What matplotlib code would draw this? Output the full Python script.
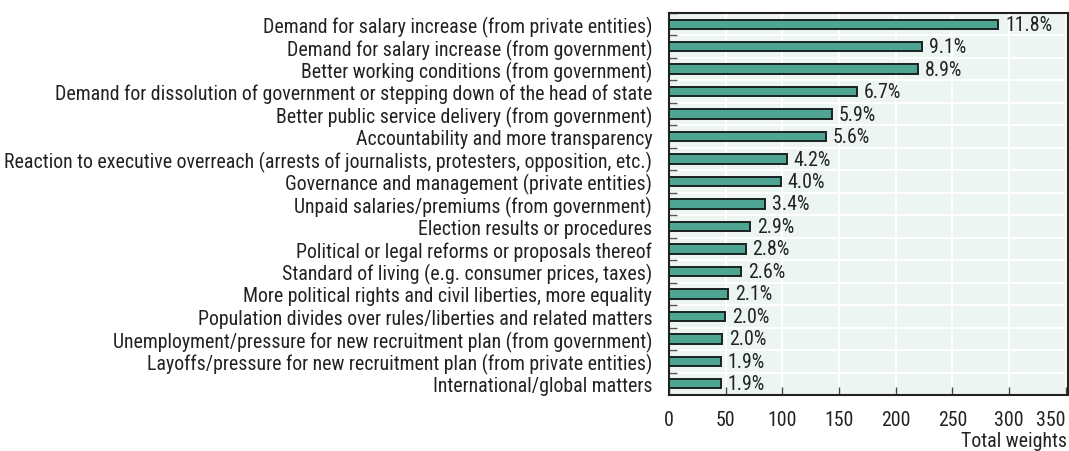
import matplotlib
matplotlib.use("Agg")
import matplotlib.pyplot as plt
from matplotlib import font_manager
import numpy as np
from matplotlib.ticker import FixedLocator

# the reference uses a condensed face; take the narrowest one we have
installed = {f.name for f in font_manager.fontManager.ttflist}
stretch = "normal"
family = "Roboto"
for name in ["Liberation Sans Narrow", "Roboto Condensed", "Open Sans Condensed",
             "DejaVu Sans Condensed"]:
    if name in installed:
        family = name
        break
else:
    cond = [f for f in font_manager.fontManager.ttflist
            if f.name == "DejaVu Sans" and f.stretch in ("condensed", 500 - 100)]
    if cond:
        family, stretch = "DejaVu Sans", "condensed"
plt.rcParams['font.family'] = [family, 'DejaVu Sans']
plt.rcParams['font.stretch'] = stretch

categories = [
    "Demand for salary increase (from private entities)",
    "Demand for salary increase (from government)",
    "Better working conditions (from government)",
    "Demand for dissolution of government or stepping down of the head of state",
    "Better public service delivery (from government)",
    "Accountability and more transparency",
    "Reaction to executive overreach (arrests of journalists, protesters, opposition, etc.)",
    "Governance and management (private entities)",
    "Unpaid salaries/premiums (from government)",
    "Election results or procedures",
    "Political or legal reforms or proposals thereof",
    "Standard of living (e.g. consumer prices, taxes)",
    "More political rights and civil liberties, more equality",
    "Population divides over rules/liberties and related matters",
    "Unemployment/pressure for new recruitment plan (from government)",
    "Layoffs/pressure for new recruitment plan (from private entities)",
    "International/global matters",
]
weights = [290.5, 223.5, 219.5, 165.5, 144, 138.3, 103.8, 98.5, 84.7,
           71.8, 67.6, 63.8, 52.4, 49.7, 47.1, 45.9, 45.9]
shares = ["11.8%", "9.1%", "8.9%", "6.7%", "5.9%", "5.6%", "4.2%", "4.0%",
          "3.4%", "2.9%", "2.8%", "2.6%", "2.1%", "2.0%", "2.0%", "1.9%", "1.9%"]
xticks = [0, 50, 100, 150, 200, 250, 300, 350]

fig = plt.figure(figsize=(10.69, 4.52), dpi=100)
renderer = fig.canvas.get_renderer()

# size the labels so the longest one spans about the same width as the reference
longest = max(categories, key=len)
probe = fig.text(0, 0, longest, fontsize=12)
w12 = probe.get_window_extent(renderer).width
probe.remove()
fs = min(16.0, 12 * 645 / w12)

ax = fig.add_axes([669 / 1069, 1 - 396 / 452, 399 / 1069, 382 / 452])
ax.set_facecolor("#edf5f3")

y = np.arange(len(categories))[::-1]
ax.barh(y, weights, height=0.42, color="#4ea591", edgecolor="#1a2321",
        linewidth=1.4, zorder=3)
for yi, w, s in zip(y, weights, shares):
    ax.text(w + 6, yi, s, va="center", ha="left", fontsize=fs,
            color="#222222", zorder=4)

ax.set_xlim(0, 352)
ax.set_ylim(-0.5, len(categories) - 0.5)
ax.set_yticks(y)
ax.set_yticklabels(categories, fontsize=fs, color="#222222")
ax.yaxis.set_minor_locator(FixedLocator(np.arange(len(categories)) + 0.5))
ax.tick_params(axis="y", which="major", length=0, pad=12)
ax.tick_params(axis="y", which="minor", length=6, width=1, color="#555555",
               direction="in")
ax.set_xticks(xticks)
ax.tick_params(axis="x", which="major", length=6, width=1, color="#444444",
               direction="in", labelsize=fs, pad=11, labelcolor="#222222")
ax.get_xticklabels()[-1].set_ha("right")
ax.grid(axis="x", color="white", linewidth=1.5, zorder=1)
ax.grid(axis="y", which="minor", color="white", linewidth=1.5, zorder=1)
ax.set_axisbelow(True)
for sp in ax.spines.values():
    sp.set_color("#222222")
    sp.set_linewidth(1.5)
ax.set_xlabel("Total weights", fontsize=fs, color="#222222")
ax.xaxis.set_label_coords(0.997, -0.118)
ax.xaxis.label.set_ha("right")
ax.xaxis.label.set_va("center")

fig.savefig("out.png", dpi=100)
